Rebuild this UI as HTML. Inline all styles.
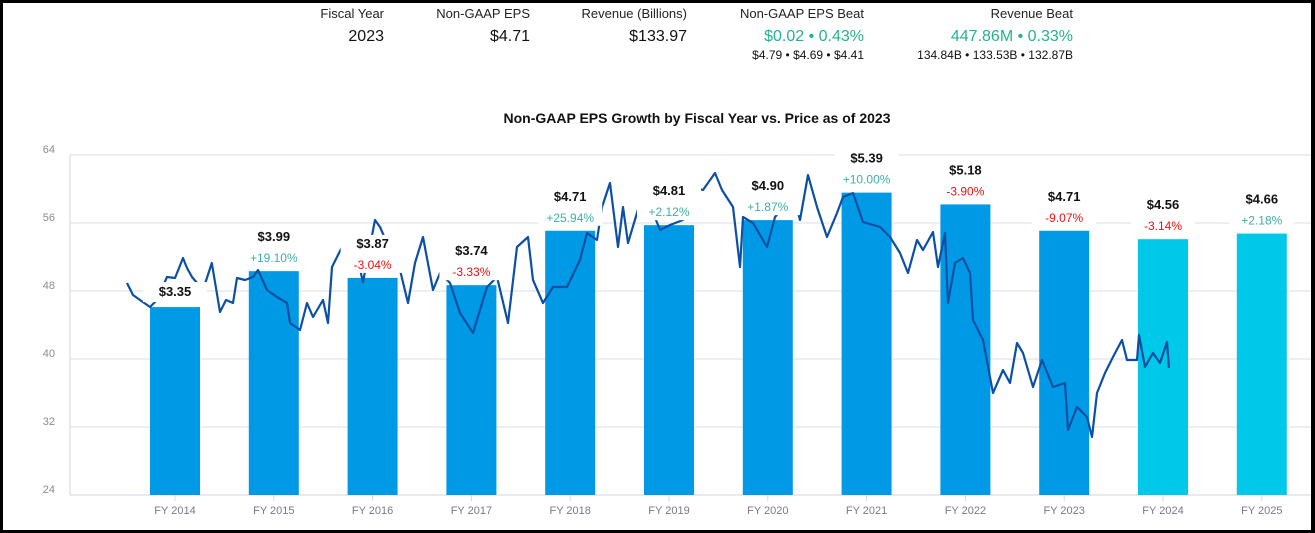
<!DOCTYPE html>
<html><head><meta charset="utf-8"><style>
html,body{margin:0;padding:0;background:#000;width:1315px;height:533px;overflow:hidden}
#frame{position:absolute;left:3px;top:3px;width:1308px;height:527px;background:#fff}
.h{position:absolute;font-family:"Liberation Sans",sans-serif;text-align:right;white-space:nowrap}
.lab{font-size:13px;color:#222;top:6px}
.val{font-size:16px;color:#111;top:28px}
.grn{color:#22b38f}
.sub{font-size:12px;color:#111;top:48px}
svg{position:absolute;left:0;top:0}
</style></head><body>
<div id="frame"></div>
<div class="h lab" style="right:931px">Fiscal Year</div>
<div class="h val" style="right:931px">2023</div>
<div class="h lab" style="right:785px">Non-GAAP EPS</div>
<div class="h val" style="right:785px">$4.71</div>
<div class="h lab" style="right:628px">Revenue (Billions)</div>
<div class="h val" style="right:628px">$133.97</div>
<div class="h lab" style="right:451px">Non-GAAP EPS Beat</div>
<div class="h val grn" style="right:451px">$0.02 • 0.43%</div>
<div class="h sub" style="right:451px">$4.79 • $4.69 • $4.41</div>
<div class="h lab" style="right:242px">Revenue Beat</div>
<div class="h val grn" style="right:242px">447.86M • 0.33%</div>
<div class="h sub" style="right:242px">134.84B • 133.53B • 132.87B</div>
<svg id="chart" width="1315" height="533"></svg>
<script>
const years=["FY 2014","FY 2015","FY 2016","FY 2017","FY 2018","FY 2019","FY 2020","FY 2021","FY 2022","FY 2023","FY 2024","FY 2025"];
const eps=[3.35,3.99,3.87,3.74,4.71,4.81,4.90,5.39,5.18,4.71,4.56,4.66];
const epsLabels=["$3.35","$3.99","$3.87","$3.74","$4.71","$4.81","$4.90","$5.39","$5.18","$4.71","$4.56","$4.66"];
const growth=[null,19.10,-3.04,-3.33,25.94,2.12,1.87,10.00,-3.90,-9.07,-3.14,2.18];
const estimate=[false,false,false,false,false,false,false,false,false,false,true,true];
const yTicks=[24,32,40,48,56,64];
const priceT=[-0.486,-0.425,-0.354,-0.253,-0.182,-0.081,0,0.081,0.121,0.172,0.283,0.372,0.455,0.516,0.587,0.628,0.709,0.789,0.840,0.931,1.032,1.134,1.164,1.265,1.336,1.397,1.498,1.549,1.589,1.700,1.802,1.903,2.024,2.075,2.176,2.277,2.358,2.429,2.510,2.611,2.682,2.783,2.885,3.016,3.158,3.259,3.370,3.462,3.573,3.623,3.725,3.826,3.968,4.099,4.170,4.271,4.322,4.403,4.484,4.534,4.585,4.676,4.737,4.808,4.909,5.010,5.142,5.243,5.344,5.466,5.536,5.648,5.719,5.749,5.850,5.992,6.073,6.174,6.255,6.326,6.407,6.498,6.599,6.700,6.761,6.862,6.964,7.136,7.237,7.338,7.419,7.510,7.571,7.672,7.723,7.794,7.824,7.895,7.976,8.047,8.077,8.178,8.279,8.381,8.451,8.522,8.583,8.684,8.775,8.887,9.008,9.038,9.130,9.231,9.281,9.332,9.413,9.494,9.585,9.636,9.737,9.757,9.818,9.899,9.970,10.040,10.061];
const price=[48.94,47.53,46.94,46.12,46.94,49.65,49.53,51.88,50.71,49.65,48.12,51.29,45.53,46.94,46.59,49.53,49.29,49.65,50.47,48.12,47.29,46.59,44.24,43.41,46.59,44.94,46.94,44.24,50.82,53.41,54.0,49.06,56.35,55.53,52.82,50.47,46.59,51.29,54.35,48.12,50.12,48.94,45.41,43.06,48.47,49.65,44.24,53.18,54.35,49.29,46.59,48.47,48.47,51.65,54.82,54.0,57.88,60.71,53.18,57.88,53.65,57.18,59.88,58.12,55.18,55.76,56.35,60.24,59.88,61.88,59.88,57.88,50.82,56.71,56.0,53.18,56.71,58.12,59.53,56.35,61.65,57.88,54.35,57.18,59.06,59.53,56.12,55.53,54.35,52.47,50.12,54.0,52.82,54.94,50.82,54.82,46.59,51.29,51.88,50.12,44.59,42.24,36.0,38.71,37.18,41.88,40.71,36.71,39.88,36.71,37.18,31.65,34.35,33.18,30.82,36.0,38.35,40.24,42.24,39.88,39.88,42.82,39.06,40.71,39.53,42.0,38.94];

const svg=document.getElementById('chart');const NS='http://www.w3.org/2000/svg';
function mk(t,a,p){const e=document.createElementNS(NS,t);for(const k in a)e.setAttribute(k,a[k]);(p||svg).appendChild(e);return e;}
const L=70,R=1311,T=155,B=495,ymin=24,ymax=64;
const x0=175,step=98.8,barW=50,epsPx=56.1;
const xs=i=>x0+i*step;
const yP=v=>B-(v-ymin)/(ymax-ymin)*(B-T);
const hE=v=>v*epsPx;
const F='"Liberation Sans",sans-serif';
yTicks.forEach(v=>{
 const g=mk('line',{x1:L,x2:R,y1:yP(v),y2:yP(v),stroke:'#dedee6','stroke-width':1});
 
 
 const t=mk('text',{x:55,y:yP(v)-2,'text-anchor':'end','font-family':F,'font-size':11,fill:'#8a8a96'});
 t.textContent=v;
 
 
});
mk('line',{x1:L,x2:L,y1:T,y2:B,stroke:'#d6d6de'});
mk('line',{x1:L,x2:R,y1:B,y2:B,stroke:'#d6d6de'});
years.forEach((y,i)=>{
 const b=mk('rect',{x:xs(i)-barW/2,y:B-hE(eps[i]),width:barW,height:hE(eps[i]),fill:estimate[i]?'#00c8e8':'#0099e6'});
 
 
 mk('line',{x1:xs(i),x2:xs(i),y1:B,y2:B+6,stroke:'#d6d6de'});
 const t=mk('text',{x:xs(i),y:514,'text-anchor':'middle','font-family':F,'font-size':11,fill:'#7a7a86'});
 t.textContent=y;
 
 
});
let d='';priceT.forEach((t,i)=>{d+=(i?'L':'M')+xs(t).toFixed(1)+' '+yP(price[i]).toFixed(1);});
const pl=mk('path',{d:d,fill:'none',stroke:'#0c4fa3','stroke-width':2.2,'stroke-linejoin':'round'});


years.forEach((y,i)=>{
 const top=B-hE(eps[i]);const hasG=growth[i]!==null;
 const bg=mk('rect',{x:xs(i)-32,y:top-(hasG?43:25),width:64,height:hasG?38:20,fill:'#fff'});
 
 
 const v=mk('text',{x:xs(i),y:top-(hasG?30:11),'text-anchor':'middle','font-family':F,'font-size':13,'font-weight':'bold',fill:'#111'});
 v.textContent=epsLabels[i];
 
 
 if(hasG){
  const g=mk('text',{x:xs(i),y:top-9,'text-anchor':'middle','font-family':F,'font-size':12,fill:growth[i]>=0?'#3db0a6':'#f01010'});
  g.textContent=(growth[i]>=0?'+':'')+growth[i].toFixed(2)+'%';
  
  
 }
});
const ti=mk('text',{x:697,y:123,'text-anchor':'middle','font-family':F,'font-size':14,'font-weight':'bold',fill:'#111'});
ti.textContent='Non-GAAP EPS Growth by Fiscal Year vs. Price as of 2023';


</script>
</body></html>
